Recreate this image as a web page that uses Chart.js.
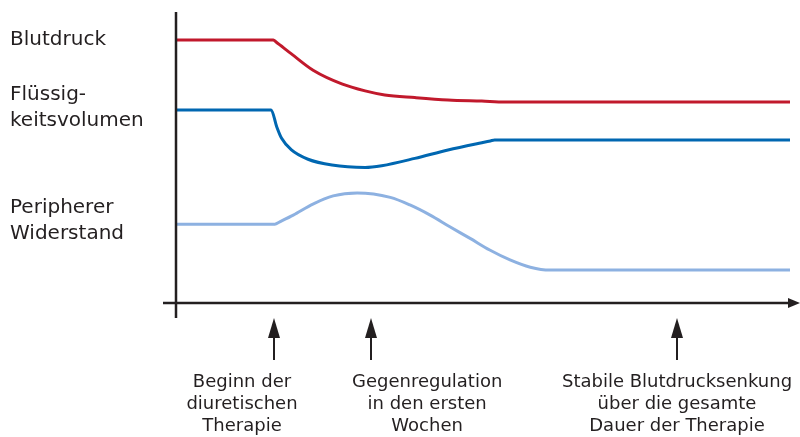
<!DOCTYPE html>
<html>
<head>
<meta charset="utf-8">
<script src="https://cdn.jsdelivr.net/npm/chart.js@4.4.0/dist/chart.umd.min.js"></script>
<style>
body{margin:0;background:#fff}
#wrap{width:800px;height:437px}
</style>
</head>
<body>
<div id="wrap"><canvas id="myChart" width="800" height="437"></canvas></div>
<script>
// time axis 0..100, level axis 0..100 (arbitrary units)
var bloodX = [0, 15.85, 16.3, 18.8, 22.4, 27.0, 30.8, 34.0, 38.9, 44.3, 49.8, 53.6, 100]
var bloodY = [90.4, 90.4, 89.7, 85.6, 79.9, 75.3, 72.9, 71.5, 70.6, 69.8, 69.4, 69.1, 69.1]

var volumeX = [0, 15.5, 16.4, 17.2, 18.8, 21.5, 25.4, 30.8, 33.5, 38.9, 44.3, 49.8, 51.2, 51.9, 100]
var volumeY = [66.3, 66.3, 60.6, 56.6, 52.6, 49.4, 47.4, 46.6, 47.2, 49.7, 52.6, 55.1, 55.7, 56.0, 56.0]

var resistX = [0, 16.1, 16.9, 19.1, 22.3, 25.6, 29.5, 34.9, 38.1, 41.4, 44.6, 47.9, 51.1, 54.4, 57.7, 60.9, 100]
var resistY = [27.1, 27.1, 27.9, 30.2, 34.0, 36.8, 37.8, 36.3, 33.7, 30.2, 26.2, 22.2, 18.2, 14.8, 12.3, 11.3, 11.3]

var sideLabels = [["Blutdruck"], ["Flüssig-", "keitsvolumen"], ["Peripherer", "Widerstand"]]
var sideLabelPos = [90.4, 67.0, 28.4]

// arrows point at these times, captions are centred a bit differently
var markerX = [16.0, 31.8, 81.6]
var captionX = [10.75, 40.9, 81.6]
var markerLabels = [
    ["Beginn der", "diuretischen", "Therapie"],
    ["Gegenregulation", "in den ersten", "Wochen"],
    ["Stabile Blutdrucksenkung", "über die gesamte", "Dauer der Therapie"]
]

var ink = "#231f20"

function pts(xs, ys){
    return xs.map((x, i) => ({x: x, y: ys[i]}))
}

var axesArrows = {
    id: "axesArrows",
    afterDraw(chart){
        const ctx = chart.ctx
        const a = chart.chartArea
        const xs = chart.scales.x
        ctx.save()
        ctx.strokeStyle = ink
        ctx.fillStyle = ink
        ctx.lineWidth = 2.5
        ctx.beginPath()
        ctx.moveTo(a.left, a.top)
        ctx.lineTo(a.left, a.bottom + 15)
        ctx.moveTo(a.left - 13, a.bottom)
        ctx.lineTo(a.right, a.bottom)
        ctx.stroke()
        // arrow head of time axis
        ctx.beginPath()
        ctx.moveTo(a.right - 2, a.bottom - 5)
        ctx.lineTo(a.right + 10, a.bottom)
        ctx.lineTo(a.right - 2, a.bottom + 5)
        ctx.closePath()
        ctx.fill()
        // marker arrows under the axis
        markerX.forEach(v => {
            const px = Math.round(xs.getPixelForValue(v))
            ctx.lineWidth = 2
            ctx.beginPath()
            ctx.moveTo(px, a.bottom + 30)
            ctx.lineTo(px, a.bottom + 57)
            ctx.stroke()
            ctx.beginPath()
            ctx.moveTo(px, a.bottom + 15)
            ctx.lineTo(px + 6, a.bottom + 35)
            ctx.lineTo(px - 6, a.bottom + 35)
            ctx.closePath()
            ctx.fill()
        })
        ctx.restore()
    }
}

const ctx = document.getElementById("myChart")
new Chart(ctx, {
    type: "line",
    data: {
        datasets: [{
            label: "Blutdruck",
            data: pts(bloodX, bloodY),
            borderColor: "#c1192c",
            borderWidth: 3
        },
        {
            label: "Flüssigkeitsvolumen",
            data: pts(volumeX, volumeY),
            borderColor: "#0067b1",
            borderWidth: 3
        },
        {
            label: "Peripherer Widerstand",
            data: pts(resistX, resistY),
            borderColor: "#8db1e1",
            borderWidth: 3
        }]
    },
    options: {
        responsive: false,
        animation: false,
        layout: {padding: {left: 10, right: 10, top: 12, bottom: 0}},
        elements: {
            point: {radius: 0},
            line: {cubicInterpolationMode: "monotone", fill: false}
        },
        plugins: {
            legend: {display: false},
            tooltip: {enabled: false}
        },
        scales: {
            x: {
                type: "linear",
                min: 0,
                max: 100,
                grid: {display: false, drawTicks: false},
                border: {display: false},
                afterFit(scale){
                    scale.height = 134
                    scale.paddingLeft = 0
                    scale.paddingRight = 0
                },
                afterBuildTicks(scale){ scale.ticks = captionX.map(v => ({value: v})) },
                ticks: {
                    autoSkip: false,
                    maxRotation: 0,
                    padding: 68,
                    color: ink,
                    font: {family: "DejaVu Sans", size: 18, lineHeight: 1.22},
                    callback: (v, i) => markerLabels[i]
                }
            },
            y: {
                min: 0,
                max: 100,
                grid: {display: false, drawTicks: false},
                border: {display: false},
                afterFit(scale){
                    scale.width = 166
                    scale.paddingTop = 0
                    scale.paddingBottom = 0
                },
                afterBuildTicks(scale){ scale.ticks = sideLabelPos.map(v => ({value: v})) },
                ticks: {
                    crossAlign: "far",
                    padding: 0,
                    color: ink,
                    font: {family: "DejaVu Sans", size: 20, lineHeight: 1.3},
                    callback: (v, i) => sideLabels[i]
                }
            }
        }
    },
    plugins: [axesArrows]
})
</script>
</body>
</html>
